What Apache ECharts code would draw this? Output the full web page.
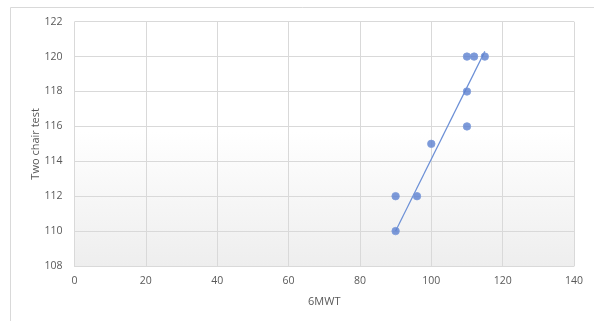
<!DOCTYPE html>
<html><head><meta charset="utf-8">
<script src="https://cdn.jsdelivr.net/npm/echarts@6/dist/echarts.min.js"></script>
<style>html,body{margin:0;padding:0;background:#fff}#c{width:594px;height:321px}</style>
</head><body><div id="c"></div>
<script>
var sixMWT = [90, 90, 96, 100, 110, 110, 110, 112, 115];
var twoChair = [110, 112, 112, 115, 116, 118, 120, 120, 120];
var trendX = [90, 115];
var trendY = [110.0, 120.3];
var xTicks = [0, 20, 40, 60, 80, 100, 120, 140];
var yTicks = [108, 110, 112, 114, 116, 118, 120, 122];

var chart = echarts.init(document.getElementById('c'));
var txt = '#595959';
var font = 'Open Sans';
chart.setOption({
  animation: false,
  graphic: [{type:'rect', shape:{x:10.5,y:7.5,width:600,height:330}, style:{fill:null, stroke:'#d9d9d9', lineWidth:1}, z:-10}],
  grid: {left: 74.5, right: 20, top: 21.7, bottom: 55, show: true, borderWidth: 0,
    backgroundColor: new echarts.graphic.LinearGradient(0,0,0,1,[{offset:0,color:'#ffffff'},{offset:0.45,color:'#ffffff'},{offset:1,color:'#eeeeee'}])},
  xAxis: {type:'value', min: xTicks[0], max: xTicks[xTicks.length-1], interval: 20,
    name:'6MWT', nameLocation:'middle', nameGap: 30,
    nameTextStyle:{color:txt, fontSize:11, fontFamily:font},
    axisLine:{show:true, lineStyle:{color:'#d9d9d9'}}, axisTick:{show:false},
    axisLabel:{color:txt, fontSize:10.5, fontFamily:font, margin:10},
    splitLine:{show:true, lineStyle:{color:'#d9d9d9'}}},
  yAxis: {type:'value', min: yTicks[0], max: yTicks[yTicks.length-1], interval: 2,
    name:'Two chair test', nameLocation:'middle', nameGap: 33, nameMoveOverlap: false,
    nameTextStyle:{color:txt, fontSize:11, fontFamily:font},
    axisLine:{show:false}, axisTick:{show:false},
    axisLabel:{color:txt, fontSize:10.5, fontFamily:font, margin:12},
    splitLine:{show:true, lineStyle:{color:'#d9d9d9'}}},
  series: [
    {type:'line', data: trendX.map(function(x,i){return [x, trendY[i]];}), symbol:'none',
      lineStyle:{color:'#6b8fd6', width:1.2}, z:2},
    {type:'scatter', data: sixMWT.map(function(x,i){return [x, twoChair[i]];}), symbolSize:7.5,
      itemStyle:{color:'#5b7fcf', borderColor:'#7f9edb', borderWidth:1}, z:3}
  ]
});
</script></body></html>
